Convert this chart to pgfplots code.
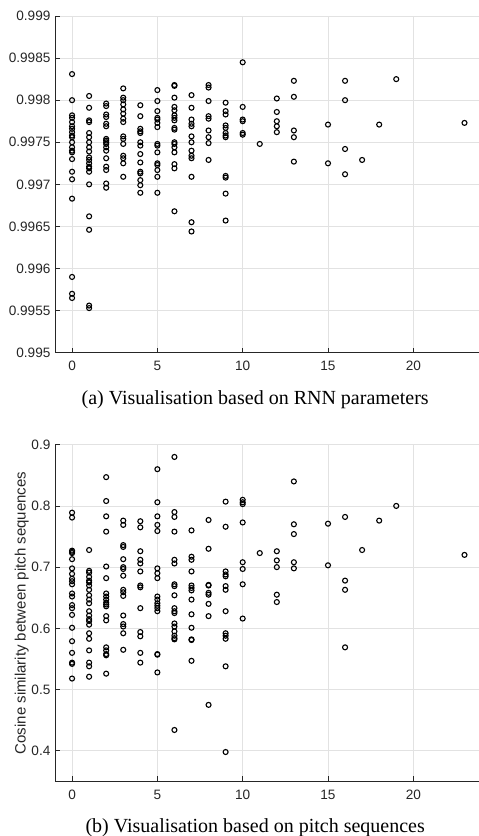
\documentclass[border=0pt]{standalone}
\usepackage{fontspec}
\setmainfont{Liberation Sans}
\newfontfamily\capfont{Liberation Serif}
\usepackage{pgfplots}
\pgfplotsset{compat=1.18}
\definecolor{axiscol}{HTML}{262626}
\definecolor{gridcol}{HTML}{E2E2E2}
\pgfplotsset{
  myscatter/.style={
    scale only axis, width=424bp, height=336.7bp,
    xmin=-1, xmax=23.85,
    axis lines*=left,
    axis line style={-, color=axiscol, line width=0.6bp},
    tick align=inside, major tick length=5bp,
    tick style={color=axiscol, line width=0.6bp},
    grid=major, major grid style={color=gridcol, line width=0.6bp},
    xtick={0,5,10,15,20},
    /pgf/number format/assume math mode=true,
    tick label style={font=\fontsize{13.6bp}{16bp}\selectfont, text=axiscol},
    yticklabel style={anchor=east, inner sep=0pt, xshift=-4.4bp},
    xticklabel style={anchor=north, inner sep=0pt, yshift=-8.5bp},
    scaled ticks=false,
  },
  mymark/.style={only marks, mark=o, mark size=2.5bp, mark options={line width=1.1bp, black}}
}
\begin{document}
\begin{tikzpicture}
\useasboundingbox (0,0) rectangle (479bp,-836bp);
\begin{axis}[myscatter, at={(55bp,-16bp)}, anchor=north west,
  ymin=0.995, ymax=0.999,
  ytick={0.995,0.9955,0.996,0.9965,0.997,0.9975,0.998,0.9985,0.999},
  yticklabels={0.995,0.9955,0.996,0.9965,0.997,0.9975,0.998,0.9985,0.999}]
\addplot[mymark] table {
x y
0 0.99831
0 0.99800
0 0.99782
0 0.99779
0 0.99774
0 0.99769
0 0.99766
0 0.99762
0 0.99758
0 0.99756
0 0.99750
0 0.99744
0 0.99740
0 0.99738
0 0.99730
0 0.99715
0 0.99706
0 0.99683
0 0.99590
0 0.99570
0 0.99565
1 0.99805
1 0.99791
1 0.99776
1 0.99774
1 0.99761
1 0.99756
1 0.99750
1 0.99744
1 0.99739
1 0.99732
1 0.99729
1 0.99725
1 0.99721
1 0.99719
1 0.99715
1 0.99700
1 0.99662
1 0.99646
1 0.99556
1 0.99553
2 0.99796
2 0.99793
2 0.99783
2 0.99780
2 0.99772
2 0.99769
2 0.99754
2 0.99752
2 0.99750
2 0.99748
2 0.99744
2 0.99740
2 0.99731
2 0.99721
2 0.99717
2 0.99701
2 0.99696
3 0.99814
3 0.99803
3 0.99800
3 0.99795
3 0.99789
3 0.99784
3 0.99778
3 0.99774
3 0.99757
3 0.99754
3 0.99748
3 0.99734
3 0.99731
3 0.99725
3 0.99709
4 0.99794
4 0.99781
4 0.99766
4 0.99763
4 0.99761
4 0.99750
4 0.99746
4 0.99736
4 0.99726
4 0.99715
4 0.99713
4 0.99705
4 0.99699
4 0.99690
5 0.99812
5 0.99799
5 0.99787
5 0.99779
5 0.99777
5 0.99773
5 0.99768
5 0.99748
5 0.99746
5 0.99738
5 0.99725
5 0.99723
5 0.99717
5 0.99709
5 0.99690
6 0.99818
6 0.99817
6 0.99803
6 0.99792
6 0.99788
6 0.99782
6 0.99779
6 0.99776
6 0.99767
6 0.99765
6 0.99750
6 0.99748
6 0.99744
6 0.99738
6 0.99724
6 0.99719
6 0.99668
7 0.99806
7 0.99791
7 0.99777
7 0.99772
7 0.99769
7 0.99757
7 0.99750
7 0.99740
7 0.99734
7 0.99731
7 0.99709
7 0.99655
7 0.99644
8 0.99818
8 0.99815
8 0.99799
8 0.99781
8 0.99778
8 0.99764
8 0.99756
8 0.99749
8 0.99729
9 0.99797
9 0.99787
9 0.99783
9 0.99770
9 0.99767
9 0.99761
9 0.99758
9 0.99756
9 0.99710
9 0.99708
9 0.99689
9 0.99657
10 0.99845
10 0.99792
10 0.99777
10 0.99775
10 0.99761
10 0.99759
11 0.99748
12 0.99802
12 0.99786
12 0.99775
12 0.99769
12 0.99762
13 0.99823
13 0.99804
13 0.99764
13 0.99756
13 0.99727
15 0.99771
15 0.99725
16 0.99823
16 0.99800
16 0.99742
16 0.99712
17 0.99729
18 0.99771
19 0.99825
23 0.99773
};
\end{axis}
\node[anchor=base] at (255.2bp,-404bp) {\capfont\fontsize{20bp}{24bp}\selectfont (a) Visualisation based on RNN parameters};
\begin{axis}[myscatter, at={(55bp,-444.7bp)}, anchor=north west,
  ymin=0.35, ymax=0.9,
  ytick={0.4,0.5,0.6,0.7,0.8,0.9},
  yticklabels={0.4,0.5,0.6,0.7,0.8,0.9}]
\addplot[mymark] table {
x y
0 0.789
0 0.781
0 0.727
0 0.725
0 0.723
0 0.713
0 0.698
0 0.689
0 0.681
0 0.677
0 0.672
0 0.657
0 0.652
0 0.638
0 0.633
0 0.622
0 0.601
0 0.579
0 0.560
0 0.544
0 0.542
0 0.518
1 0.728
1 0.694
1 0.691
1 0.684
1 0.678
1 0.675
1 0.670
1 0.663
1 0.654
1 0.647
1 0.641
1 0.628
1 0.621
1 0.615
1 0.612
1 0.606
1 0.592
1 0.583
1 0.564
1 0.544
1 0.538
1 0.521
2 0.847
2 0.808
2 0.783
2 0.758
2 0.701
2 0.682
2 0.657
2 0.652
2 0.647
2 0.642
2 0.639
2 0.636
2 0.620
2 0.613
2 0.569
2 0.564
2 0.558
2 0.556
2 0.526
3 0.776
3 0.769
3 0.736
3 0.733
3 0.713
3 0.700
3 0.697
3 0.686
3 0.663
3 0.659
3 0.653
3 0.621
3 0.607
3 0.603
3 0.592
3 0.565
4 0.775
4 0.765
4 0.726
4 0.712
4 0.706
4 0.693
4 0.670
4 0.667
4 0.633
4 0.594
4 0.587
4 0.560
4 0.544
5 0.860
5 0.806
5 0.783
5 0.769
5 0.759
5 0.698
5 0.690
5 0.682
5 0.652
5 0.647
5 0.641
5 0.637
5 0.633
5 0.628
5 0.558
5 0.557
5 0.528
6 0.880
6 0.790
6 0.782
6 0.758
6 0.712
6 0.706
6 0.672
6 0.669
6 0.654
6 0.633
6 0.628
6 0.625
6 0.608
6 0.603
6 0.595
6 0.588
6 0.584
6 0.582
6 0.434
7 0.760
7 0.717
7 0.712
7 0.693
7 0.670
7 0.666
7 0.662
7 0.647
7 0.623
7 0.601
7 0.582
7 0.581
7 0.547
8 0.777
8 0.730
8 0.671
8 0.670
8 0.658
8 0.655
8 0.640
8 0.620
8 0.475
9 0.807
9 0.766
9 0.693
9 0.688
9 0.685
9 0.669
9 0.663
9 0.628
9 0.592
9 0.588
9 0.583
9 0.538
9 0.398
10 0.810
10 0.806
10 0.803
10 0.773
10 0.708
10 0.697
10 0.672
10 0.616
11 0.723
12 0.726
12 0.711
12 0.700
12 0.655
12 0.643
13 0.840
13 0.770
13 0.754
13 0.708
13 0.698
15 0.771
15 0.703
16 0.782
16 0.678
16 0.663
16 0.569
17 0.728
18 0.776
19 0.800
23 0.720
};
\end{axis}
\node[rotate=90, anchor=base, text=axiscol] at (25.5bp,-613bp) {\fontsize{15bp}{18bp}\selectfont Cosine similarity between pitch sequences};
\node[anchor=base] at (255.2bp,-832bp) {\capfont\fontsize{20bp}{24bp}\selectfont (b) Visualisation based on pitch sequences};
\end{tikzpicture}
\end{document}
